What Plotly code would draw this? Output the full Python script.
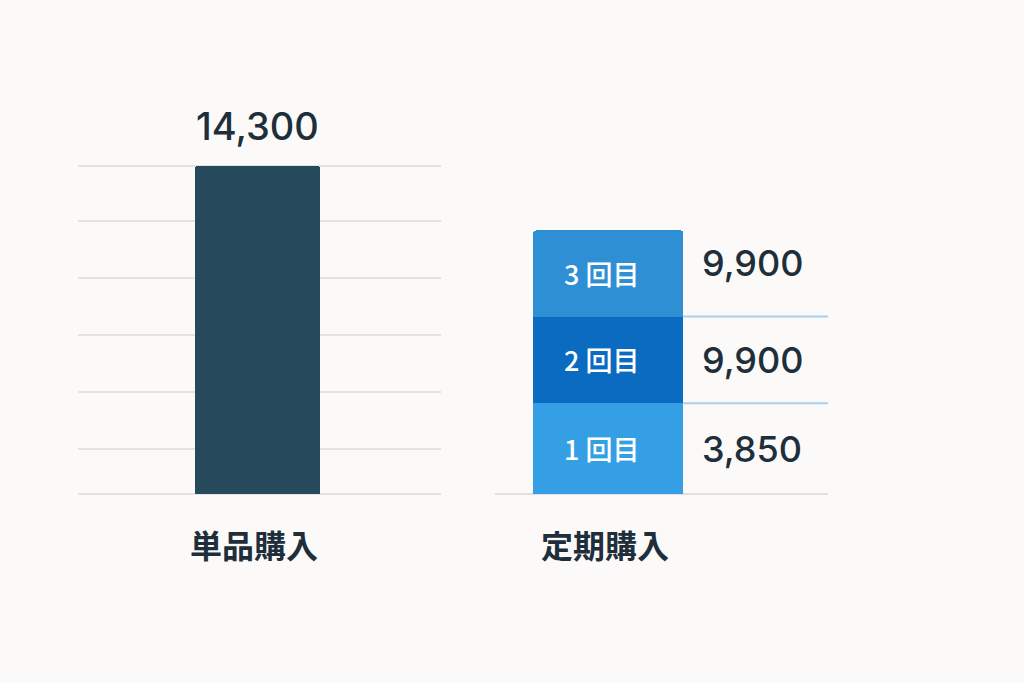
import plotly.graph_objects as go

# ---- data ----
single_category = ["単品購入"]
single_value = [14300]
single_label = ["14,300"]

sub_category = "定期購入"
sub_rounds = ["1 回目", "2 回目", "3 回目"]
sub_prices = ["3,850", "9,900", "9,900"]
# displayed segment heights (same scale as left bar)
sub_heights = [3950, 3780, 3750]

grid_values = [0, 1960, 4440, 6920, 9400, 11880, 14300]

# ---- style ----
BG = "#fbfaf8"
TXT = "#1e2e3b"
seg_colors = ["#349fe4", "#0b6bc0", "#2f8fd5"]
NUM_FONT = "Inter"
JP_FONT = "Noto Sans CJK JP"

PAD = 60  # small range padding so edge gridlines are drawn
px_per_unit = (494 - 165.7) / single_value[0]
y_top_px = 165.7 - PAD * px_per_unit
y_bot_px = 494 + PAD * px_per_unit
y_dom = [(683 - y_bot_px) / 683, (683 - y_top_px) / 683]
y_range = [-PAD, single_value[0] + PAD]

fig = go.Figure()

fig.add_trace(go.Bar(
    x=[-0.005], y=single_value, width=0.344, marker=dict(color="#27495c", line=dict(width=0)),
    xaxis="x", yaxis="y", showlegend=False, hoverinfo="skip",
))

for i, h in enumerate(sub_heights):
    fig.add_trace(go.Bar(
        x=[0], y=[h], width=0.45, marker=dict(color=seg_colors[i], line=dict(width=0)),
        xaxis="x2", yaxis="y2", showlegend=False, hoverinfo="skip",
    ))

shapes = []
annotations = []
cum = 0
for i, (h, price, lab) in enumerate(zip(sub_heights, sub_prices, sub_rounds)):
    mid = cum + h / 2
    annotations.append(dict(
        x=-0.02, y=mid, xref="x2", yref="y2", text=lab, showarrow=False,
        xanchor="center", yanchor="middle",
        font=dict(family=JP_FONT, size=27, color="white", weight=500),
    ))
    annotations.append(dict(
        x=0.276, y=mid, xref="x2", yref="y2", text=price, showarrow=False,
        xanchor="left", yanchor="middle", yshift=(10 if i == 2 else 0),
        font=dict(family=NUM_FONT, size=36, color=TXT, weight=500),
    ))
    cum += h
    if i < len(sub_heights) - 1:
        shapes.append(dict(
            type="line", xref="x2", yref="y2", x0=0.225, x1=0.66, y0=cum, y1=cum,
            line=dict(color="#a7d0ee", width=2), layer="below",
        ))

annotations.append(dict(
    x=-0.005, y=single_value[0], xref="x", yref="y", text=single_label[0], showarrow=False,
    xanchor="center", yanchor="bottom", yshift=15,
    font=dict(family=NUM_FONT, size=38, color=TXT, weight=500),
))
annotations.append(dict(
    x=-0.015, y=(683 - 544) / 683, xref="x", yref="paper", text="<b>" + single_category[0] + "</b>",
    showarrow=False, xanchor="center", yanchor="middle",
    font=dict(family=JP_FONT, size=32, color=TXT, weight=900),
))
annotations.append(dict(
    x=-0.01, y=(683 - 544) / 683, xref="x2", yref="paper", text="<b>" + sub_category + "</b>",
    showarrow=False, xanchor="center", yanchor="middle",
    font=dict(family=JP_FONT, size=32, color=TXT, weight=900),
))

fig.update_layout(
    width=1024, height=683,
    paper_bgcolor=BG, plot_bgcolor="rgba(0,0,0,0)",
    margin=dict(l=0, r=0, t=0, b=0),
    barmode="stack", barcornerradius=3,
    xaxis=dict(domain=[78 / 1024, 441 / 1024], range=[-0.5, 0.5], showticklabels=False,
               showgrid=False, zeroline=False, showline=False, fixedrange=True),
    yaxis=dict(domain=y_dom, range=y_range, tickvals=grid_values, showticklabels=False,
               showgrid=True, gridcolor="#e3e3e3", gridwidth=2, zeroline=False,
               showline=False, fixedrange=True),
    xaxis2=dict(domain=[495 / 1024, 828 / 1024], range=[-0.34, 0.66], showticklabels=False,
                showgrid=False, zeroline=False, showline=False, anchor="y2", fixedrange=True),
    yaxis2=dict(domain=y_dom, range=y_range, tickvals=[0], showticklabels=False,
                showgrid=True, gridcolor="#e0e0e0", gridwidth=2,
                zeroline=False, showline=False, anchor="x2", fixedrange=True),
    shapes=shapes,
    annotations=annotations,
)

fig.write_html(
    "out.html",
    config={"displayModeBar": False},
    post_script="document.body.style.margin='0';document.body.style.background='#fbfaf8';",
)
